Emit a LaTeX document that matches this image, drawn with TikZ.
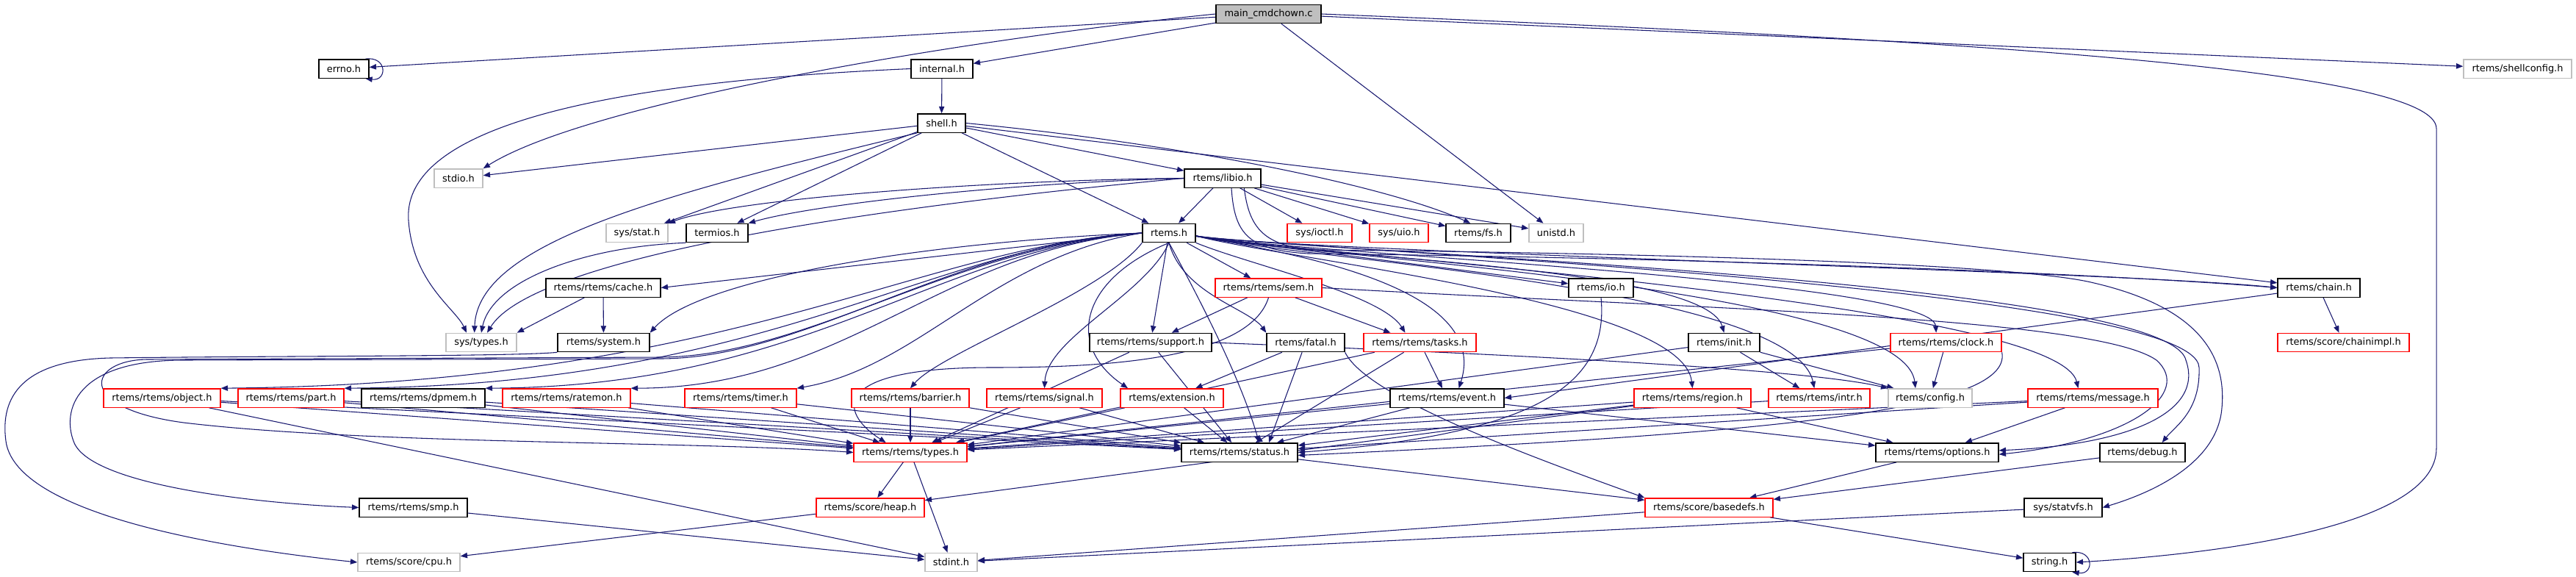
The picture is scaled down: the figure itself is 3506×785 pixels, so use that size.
\documentclass[tikz,border=0pt]{standalone}
\usepackage{fontspec}
\setmainfont{DejaVu Sans}
\usetikzlibrary{arrows.meta}
\pgfdeclarelayer{bg}
\pgfsetlayers{bg,main}
\definecolor{edgec}{HTML}{191970}
\definecolor{redb}{HTML}{FF0000}
\definecolor{grayb}{HTML}{BFBFBF}
\tikzset{
  bx/.style={draw=black, line width=1pt, fill=white, minimum height=19pt, inner sep=0pt,
             font=\fontsize{9.7}{11.6}\selectfont},
  rbx/.style={bx, draw=redb, line width=1pt},
  gbx/.style={bx, draw=grayb, line width=1pt},
  bw/.style={minimum width=#1*0.75pt},
  e/.style={draw=edgec, line width=0.8pt, -{Triangle[length=7pt,width=5.5pt]}},
}
\begin{document}
\begin{tikzpicture}[x=0.75pt,y=-0.75pt]
\useasboundingbox (0,0) rectangle (3506,785);
% nodes
\node[bx,bw=143,fill=grayb] (main) at (1726.5,19) {main\_cmdchown.c};
\node[bx,bw=68] (errno) at (468,93.5) {errno.h};
\node[bx,bw=84] (internal) at (1282,93.5) {internal.h};
\node[gbx,bw=147] (shellcfg) at (3426.5,93.5) {rtems/shellconfig.h};
\node[bx,bw=65] (shell) at (1281.5,167.5) {shell.h};
\node[gbx,bw=66] (stdio) at (624,242.5) {stdio.h};
\node[bx,bw=104] (libio) at (1664,242.5) {rtems/libio.h};
\node[gbx,bw=84] (sysstat) at (867,317) {sys/stat.h};
\node[bx,bw=84] (termios) at (976,317) {termios.h};
\node[bx,bw=72] (rtemsh) at (1591,317) {rtems.h};
\node[rbx,bw=88] (ioctl) at (1796,317) {sys/ioctl.h};
\node[rbx,bw=80] (uio) at (1904,317) {sys/uio.h};
\node[bx,bw=88] (fs) at (2012,317) {rtems/fs.h};
\node[gbx,bw=74] (unistd) at (2118,317) {unistd.h};
\node[bx,bw=156] (cache) at (821,391.5) {rtems/rtems/cache.h};
\node[rbx,bw=145] (sem) at (1726.5,391.5) {rtems/rtems/sem.h};
\node[bx,bw=88] (io) at (2179,391.5) {rtems/io.h};
\node[bx,bw=112] (chain) at (3156,391.5) {rtems/chain.h};
\node[gbx,bw=96] (systypes) at (655,466) {sys/types.h};
\node[bx,bw=125] (system) at (821.5,466) {rtems/system.h};
\node[bx,bw=166] (support) at (1566,466) {rtems/rtems/support.h};
\node[bx,bw=106] (fatal) at (1777,466) {rtems/fatal.h};
\node[rbx,bw=153] (tasks) at (1932.5,466) {rtems/rtems/tasks.h};
\node[bx,bw=97] (init) at (2346.5,466) {rtems/init.h};
\node[rbx,bw=151] (clock) at (2648.5,466) {rtems/rtems/clock.h};
\node[rbx,bw=179] (chainimpl) at (3189.5,466) {rtems/score/chainimpl.h};
\node[rbx,bw=159] (object) at (220.5,541.5) {rtems/rtems/object.h};
\node[rbx,bw=144] (part) at (396,541.5) {rtems/rtems/part.h};
\node[bx,bw=168] (dpmem) at (576,541.5) {rtems/rtems/dpmem.h};
\node[rbx,bw=174] (ratemon) at (771,541.5) {rtems/rtems/ratemon.h};
\node[rbx,bw=152] (timer) at (1008,541.5) {rtems/rtems/timer.h};
\node[rbx,bw=160] (barrier) at (1239,541.5) {rtems/rtems/barrier.h};
\node[rbx,bw=157] (signal) at (1421.5,541.5) {rtems/rtems/signal.h};
\node[rbx,bw=140] (extension) at (1595,541.5) {rtems/extension.h};
\node[bx,bw=155] (event) at (1969.5,541.5) {rtems/rtems/event.h};
\node[rbx,bw=159] (region) at (2303.5,541.5) {rtems/rtems/region.h};
\node[rbx,bw=138] (intr) at (2476,541.5) {rtems/rtems/intr.h};
\node[gbx,bw=114] (config) at (2627,541.5) {rtems/config.h};
\node[rbx,bw=177] (message) at (2848.5,541.5) {rtems/rtems/message.h};
\node[rbx,bw=154] (types) at (1239,615.5) {rtems/rtems/types.h};
\node[bx,bw=158] (status) at (1687,615.5) {rtems/rtems/status.h};
\node[bx,bw=167] (options) at (2636.5,615.5) {rtems/rtems/options.h};
\node[bx,bw=116] (debug) at (2916,615.5) {rtems/debug.h};
\node[bx,bw=147] (smp) at (562.5,690.5) {rtems/rtems/smp.h};
\node[rbx,bw=147] (heap) at (1184.5,690.5) {rtems/score/heap.h};
\node[rbx,bw=174] (basedefs) at (2326,690.5) {rtems/score/basedefs.h};
\node[bx,bw=106] (statvfs) at (2808,690.5) {sys/statvfs.h};
\node[gbx,bw=139] (cpu) at (556.5,765) {rtems/score/cpu.h};
\node[gbx,bw=71] (stdint) at (1294.5,765) {stdint.h};
\node[bx,bw=71] (string) at (2789.5,765) {string.h};
\begin{pgfonlayer}{bg}
% main
\draw[e] (main) -- (errno);
\draw[e] (main.west) .. controls (1300,55) and (800,140) .. (stdio.north east);
\draw[e] (main) -- (internal);
\draw[e] (main) -- (unistd);
\draw[e] (main) -- (shellcfg);
\draw[e] (main.east) .. controls (2700,55) and (3316,95) .. (3316,175) -- (3316,610) .. controls (3316,720) and (3000,755) .. (string.east);
\draw[e] ([xshift=-4pt]errno.north east) .. controls +(30,-4) and +(30,4) .. ([xshift=-4pt]errno.south east);
\draw[e] ([xshift=-4pt]string.north east) .. controls +(30,-4) and +(30,4) .. ([xshift=-4pt]string.south east);
% internal
\draw[e] (internal) -- (shell);
\draw[e] (internal.west) .. controls (750,115) and (548,190) .. (556,300) .. controls (562,385) and (620,420) .. ([xshift=-15pt]systypes.north);
% shell
\draw[e] (shell) -- (stdio);
\draw[e] (shell) -- (sysstat);
\draw[e] (shell) -- (termios);
\draw[e] (shell.south west) .. controls (900,265) and (650,330) .. ([xshift=-7pt]systypes.north);
\draw[e] (shell) -- (rtemsh);
\draw[e] (shell) -- (libio);
\draw[e] (shell.east) .. controls (1600,195) and (1880,250) .. ([xshift=-8pt]fs.north);
\draw[e] (shell) -- (chain);
% libio
\draw[e] (libio.west) .. controls (1350,245) and (1000,270) .. (sysstat.north east);
\draw[e] (libio.west) .. controls (1350,250) and (1100,280) .. (termios.north east);
\draw[e] (libio.west) .. controls (1100,290) and (720,360) .. ([xshift=6pt]systypes.north);
\draw[e] (libio) -- (rtemsh);
\draw[e] (libio) -- (ioctl);
\draw[e] (libio) -- (uio);
\draw[e] (libio) -- (fs);
\draw[e] (libio) -- (unistd);
\draw[e] ([xshift=9pt]libio.south) .. controls (1680,320) and (1700,340) .. (1780,345) .. controls (2400,352) and (2900,375) .. (chain.west);
\draw[e] ([xshift=22pt]libio.south) .. controls (1700,310) and (1720,338) .. (1800,340) .. controls (2300,345) and (2750,360) .. (2850,385) .. controls (3000,420) and (3030,490) .. (3024,555) .. controls (3018,630) and (2930,670) .. (statvfs.east);
% termios, cache, system
\draw[e] (termios.south west) .. controls (800,335) and (670,380) .. (systypes.north);
\draw[e] (cache) -- (systypes.north east);
\draw[e] (cache) -- (system);
\draw[e] (system.south west) .. controls (700,485) and (400,484) .. (150,487) .. controls (30,490) and (0,540) .. (8,600) .. controls (20,690) and (250,740) .. (cpu.west);
% rtems.h to the left
\draw[e] (rtemsh.west) -- (cache.east);
\draw[e] (rtemsh.west) .. controls (1250,330) and (950,380) .. (system.north east);
\draw[e] (rtemsh.west) .. controls (1250,335) and (1000,522) .. (object.north east);
\draw[e] (rtemsh.west) .. controls (1260,335) and (1050,524) .. (part.north east);
\draw[e] (rtemsh.west) .. controls (1270,340) and (1100,526) .. (dpmem.north east);
\draw[e] (rtemsh.west) .. controls (1280,340) and (1150,528) .. (ratemon.north east);
\draw[e] (rtemsh.west) .. controls (1300,330) and (1100,487) .. (900,488) -- (250,490) .. controls (100,490) and (85,560) .. (100,600) .. controls (120,660) and (350,685) .. (smp.west);
\draw[e] (rtemsh.west) .. controls (1300,335) and (1100,484) .. (900,486) -- (200,489) .. controls (120,490) and (100,555) .. (250,575) .. controls (500,605) and (950,600) .. (types.west);
\draw[e] (rtemsh.west) .. controls (1350,350) and (1250,500) .. (timer.north east);
% rtems.h downwards
\draw[e] (rtemsh.south west) .. controls (1500,400) and (1280,480) .. (barrier.north);
\draw[e] (rtemsh.south) .. controls (1560,400) and (1425,460) .. (signal.north);
\draw[e] (rtemsh.south) .. controls (1470,380) and (1450,470) .. ([xshift=-45pt]extension.north);
\draw[e] (rtemsh) -- (support);
\draw[e] (rtemsh) -- (sem);
\draw[e] (rtemsh.south) .. controls (1610,400) and (1700,420) .. (fatal.north west);
\draw[e] (rtemsh.south east) .. controls (1700,360) and (1880,400) .. ([xshift=-15pt]tasks.north);
\draw[e] (rtemsh.south) .. controls (1640,420) and (1690,520) .. ([xshift=20pt]status.north);
% rtems.h to the right
\draw[e] ([yshift=-3pt]rtemsh.east) .. controls (1760,345) and (2030,390) .. ([xshift=12pt]event.north);
\draw[e] (rtemsh) -- (io);
\draw[e] ([yshift=-3pt]rtemsh.east) .. controls (1760,350) and (2320,360) .. (init.north);
\draw[e] ([yshift=-3pt]rtemsh.east) .. controls (1760,355) and (2290,410) .. (region.north);
\draw[e] ([yshift=-3pt]rtemsh.east) .. controls (1760,352) and (2440,390) .. ([xshift=-5pt]intr.north);
\draw[e] ([yshift=-3pt]rtemsh.east) .. controls (1760,348) and (2590,390) .. ([xshift=-15pt]config.north);
\draw[e] ([yshift=-3pt]rtemsh.east) .. controls (1760,345) and (2630,380) .. ([xshift=-10pt]clock.north);
\draw[e] ([yshift=-3pt]rtemsh.east) .. controls (1760,345) and (2800,410) .. ([xshift=-15pt]message.north);
\draw[e] ([yshift=-3pt]rtemsh.east) .. controls (1760,342) and (2950,380) .. (2975,490) .. controls (3000,560) and (2900,605) .. ([yshift=2pt]options.east);
\draw[e] ([yshift=-3pt]rtemsh.east) .. controls (1760,340) and (2990,390) .. (2993,500) .. controls (2995,560) and (2960,580) .. ([xshift=20pt]debug.north);
\draw[e] ([yshift=-3pt]rtemsh.east) .. controls (1760,342) and (2900,370) .. (chain.west);
% sem
\draw[e] (sem) -- (support);
\draw[e] (sem) -- ([xshift=-30pt]tasks.north);
\draw[e] (sem.south) .. controls (1700,490) and (1500,500) .. (1350,500) .. controls (1130,500) and (1140,560) .. ([xshift=-25pt]types.north);
\draw[e] (sem.east) .. controls (2300,420) and (2850,430) .. (2935,490) .. controls (2985,535) and (2900,600) .. ([yshift=-2pt]options.east);
% support
\draw[e] (support) -- (types);
\draw[e] (support) -- (status);
\draw[e] (support.east) .. controls (2000,480) and (2450,500) .. (config.north west);
% fatal
\draw[e] (fatal) -- (extension);
\draw[e] (fatal) -- ([xshift=30pt]status.north);
\draw[e] (fatal.south east) .. controls (1860,540) and (2080,620) .. (basedefs.north west);
% tasks
\draw[e] (tasks) -- (event);
\draw[e] (tasks) -- (types);
\draw[e] (tasks) -- (status);
% event
\draw[e] (event) -- (types);
\draw[e] (event) -- (status);
\draw[e] (event) -- (options);
% io
\draw[e] (io.south) .. controls (2190,520) and (2100,590) .. (status.east);
% init
\draw[e] (init) -- (types);
\draw[e] (init) -- ([xshift=-20pt]intr.north);
\draw[e] (init) -- (config);
% region
\draw[e] (region) -- (types);
\draw[e] (region) -- (status);
\draw[e] (region) -- (options);
\draw[e] (region) -- (heap);
% intr
\draw[e] (intr) -- (types);
% clock
\draw[e] (clock) -- (config);
\draw[e] (clock) -- (types);
\draw[e] (clock.south east) .. controls (2740,560) and (2400,590) .. ([yshift=-3pt]status.east);
% message
\draw[e] (message) -- (types);
\draw[e] (message) -- (status);
\draw[e] (message) -- (options);
% chain
\draw[e] (chain) -- (chainimpl);
\draw[e] (chain) -- (event.east);
% left row
\draw[e] (object) -- (types);
\draw[e] (object) -- (status);
\draw[e] (object) -- (stdint);
\draw[e] (part) -- (types);
\draw[e] (part) -- (status);
\draw[e] (dpmem) -- (types);
\draw[e] (dpmem) -- (status);
\draw[e] (ratemon) -- (types);
\draw[e] (ratemon) -- (status);
\draw[e] (timer) -- (types);
\draw[e] (timer) -- (status);
\draw[e] (barrier) -- (types);
\draw[e] (barrier) -- (status);
\draw[e] (signal) -- (types);
\draw[e] (signal) -- (status);
\draw[e] (extension) -- (types);
\draw[e] (extension) -- (status);
% lower
\draw[e] (types) -- (heap);
\draw[e] (types) -- (stdint);
\draw[e] (status) -- (basedefs);
\draw[e] (options) -- (basedefs);
\draw[e] (debug) -- (basedefs);
\draw[e] (heap) -- (cpu);
\draw[e] (smp) -- (stdint);
\draw[e] (statvfs) -- (stdint);
\draw[e] (basedefs) -- (stdint);
\draw[e] (basedefs) -- (string);
\end{pgfonlayer}
\end{tikzpicture}
\end{document}
